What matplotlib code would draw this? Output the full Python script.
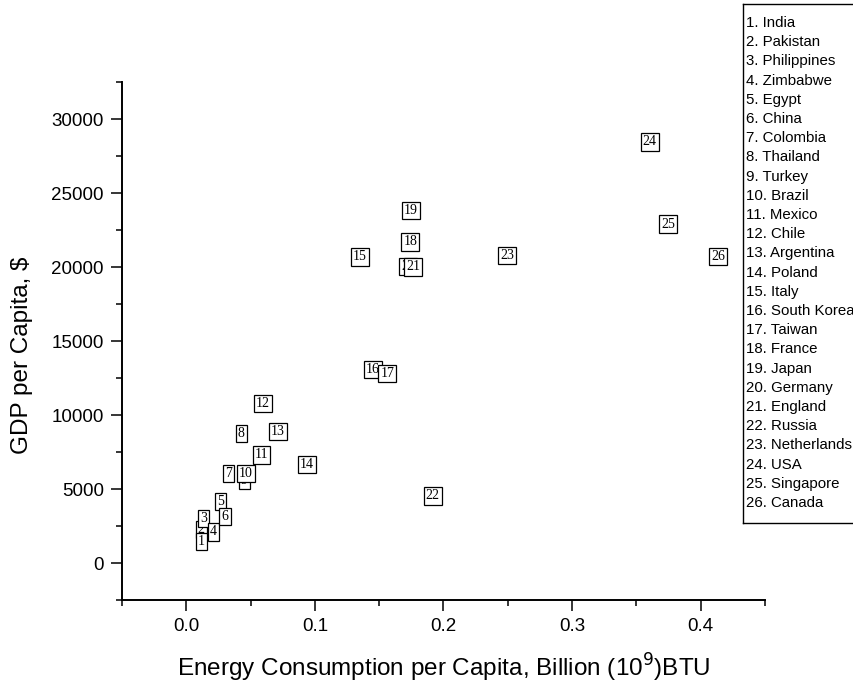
import matplotlib
matplotlib.use("Agg")
import matplotlib.pyplot as plt
from matplotlib.lines import Line2D
from matplotlib.ticker import MultipleLocator

countries = ["India", "Pakistan", "Philippines", "Zimbabwe", "Egypt", "China",
             "Colombia", "Thailand", "Turkey", "Brazil", "Mexico", "Chile",
             "Argentina", "Poland", "Italy", "South Korea", "Taiwan", "France",
             "Japan", "Germany", "England", "Russia", "Netherlands", "USA",
             "Singapore", "Canada"]

# energy consumption per capita, billion BTU
energy = [0.0116, 0.0115, 0.0133, 0.0209, 0.0269, 0.0301, 0.0330, 0.0428,
          0.0450, 0.0462, 0.0586, 0.0594, 0.0713, 0.0937, 0.1352, 0.1450,
          0.1563, 0.1743, 0.1748, 0.1725, 0.1766, 0.1917, 0.2495, 0.3604,
          0.3746, 0.4135]

# GDP per capita, $
gdp = [1450, 2250, 3030, 2100, 4150, 3170, 6030, 8770, 5550, 6030, 7300,
       10770, 8870, 6670, 20680, 13060, 12820, 21690, 23790, 20050, 20000,
       4530, 20790, 28450, 22900, 20700]

plt.rcParams['font.family'] = ['Liberation Sans', 'DejaVu Sans']

fig = plt.figure(figsize=(8.54, 6.88), dpi=100)
ax = fig.add_axes([122/854, 1 - 600/688, (765 - 122)/854, (600 - 82)/688])

for i, (x, y) in enumerate(zip(energy, gdp)):
    z = 2 if i == 1 else 3
    ax.text(x, y, str(i + 1), ha="center", va="center", fontsize=10,
            family="Liberation Serif", zorder=z,
            bbox=dict(boxstyle="square,pad=0.15", fc="white", ec="black", lw=0.9))

ax.set_xlim(-0.05, 0.45)
ax.set_ylim(-2500, 32500)
ax.xaxis.set_minor_locator(MultipleLocator(0.05))
ax.yaxis.set_major_locator(MultipleLocator(5000))
ax.yaxis.set_minor_locator(MultipleLocator(2500))
ax.set_xticks([0.0, 0.1, 0.2, 0.3, 0.4])
ax.set_xticklabels(["0.0", "0.1", "0.2", "0.3", "0.4"])

for s in ["top", "right"]:
    ax.spines[s].set_visible(False)
for s in ["left", "bottom"]:
    ax.spines[s].set_linewidth(1.4)

ax.tick_params(which="major", direction="out", length=8, width=1.1,
               labelsize=13.5, pad=5)
ax.tick_params(which="minor", direction="out", length=4.5, width=1.1)

ax.set_xlabel("Energy Consumption per Capita, Billion (10$^9$)BTU", fontsize=17.5, labelpad=12)
ax.set_ylabel("GDP per Capita, $", fontsize=17.5)
ax.yaxis.set_label_coords(-0.138, 0.473)

# country key box at the top right (runs off the right edge)
kx0, ky0, ky1 = 743/854, 1 - 523/688, 1 - 4/688
for xs, ys in [([kx0, kx0], [ky0, ky1]), ([kx0, 1.0], [ky0, ky0]), ([kx0, 1.0], [ky1, ky1])]:
    fig.add_artist(Line2D(xs, ys, transform=fig.transFigure, color="black", lw=1.0))
for i, name in enumerate(countries):
    fig.text(746/854, 1 - (23 + 19.2*i)/688, f"{i + 1}. {name}",
             fontsize=10.8, va="center", ha="left")

fig.savefig("out.png", dpi=100)
